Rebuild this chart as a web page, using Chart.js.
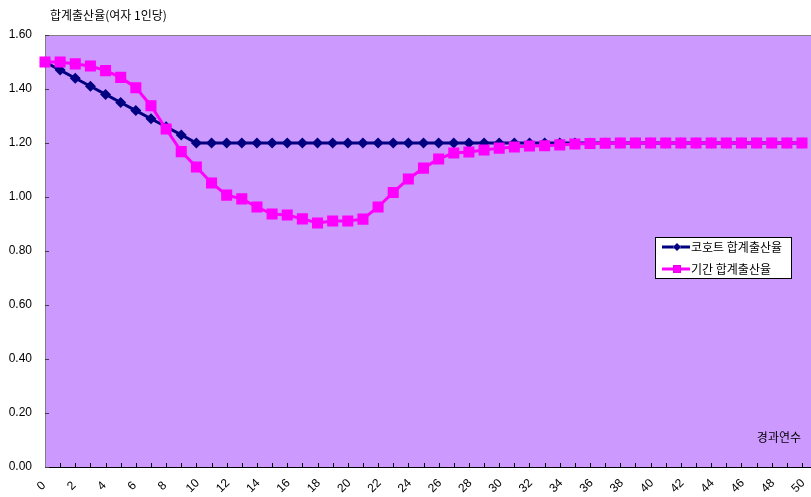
<!DOCTYPE html>
<html>
<head>
<meta charset="utf-8">
<script src="https://cdn.jsdelivr.net/npm/chart.js@4.4.1/dist/chart.umd.min.js"></script>
<style>
  html, body { margin: 0; padding: 0; background: #ffffff; }
  #wrap { width: 811px; height: 497px; position: relative; }
</style>
</head>
<body>
<div id="wrap"><canvas id="c" width="811" height="497"></canvas></div>
<script>
// Elapsed years (경과연수)
const years = ['0','1','2','3','4','5','6','7','8','9','10','11','12','13','14','15','16','17','18','19','20',
  '21','22','23','24','25','26','27','28','29','30','31','32','33','34','35','36','37','38','39','40',
  '41','42','43','44','45','46','47','48','49','50'];

// Cohort total fertility rate
const cohortTFR = [1.50, 1.47, 1.44, 1.41, 1.38, 1.35, 1.32, 1.29, 1.26, 1.23, 1.20,
  1.20, 1.20, 1.20, 1.20, 1.20, 1.20, 1.20, 1.20, 1.20, 1.20,
  1.20, 1.20, 1.20, 1.20, 1.20, 1.20, 1.20, 1.20, 1.20, 1.20,
  1.20, 1.20, 1.20, 1.20, 1.20, 1.20, 1.20, 1.20, 1.20, 1.20,
  1.20, 1.20, 1.20, 1.20, 1.20, 1.20, 1.20, 1.20, 1.20, 1.20];

// Period total fertility rate
const periodTFR = [1.50, 1.50, 1.493, 1.485, 1.468, 1.443, 1.405, 1.338, 1.252, 1.168, 1.111,
  1.052, 1.007, 0.993, 0.963, 0.937, 0.933, 0.919, 0.904, 0.911, 0.911,
  0.918, 0.963, 1.017, 1.067, 1.107, 1.141, 1.163, 1.167, 1.174, 1.181,
  1.185, 1.189, 1.190, 1.193, 1.196, 1.198, 1.199, 1.20, 1.20, 1.20,
  1.20, 1.20, 1.20, 1.20, 1.20, 1.20, 1.20, 1.20, 1.20, 1.20];

const seriesNames = ['코호트 합계출산율', '기간 합계출산율'];
const yAxisTitle = '합계출산율(여자 1인당)';
const xAxisTitle = '경과연수';

const FONT = "'Liberation Sans', 'Noto Sans CJK KR', sans-serif";
const KFONT = "'Noto Sans CJK KR', 'Liberation Sans', sans-serif";
const PLOT_BG = '#CC99FF';

Chart.defaults.font.family = FONT;
Chart.defaults.font.size = 12;
Chart.defaults.color = '#000000';

const decor = {
  id: 'decor',
  beforeDraw(chart) {
    const { ctx, chartArea: a, width } = chart;
    ctx.save();
    // the plot panel runs on to the right edge of the canvas
    ctx.fillStyle = PLOT_BG;
    ctx.fillRect(a.left, a.top, width - a.left, a.bottom - a.top);
    ctx.restore();
  },
  beforeDatasetsDraw(chart) {
    const { ctx, chartArea: a, scales, width } = chart;
    ctx.save();
    // plot frame
    ctx.strokeStyle = '#808080';
    ctx.lineWidth = 1;
    ctx.beginPath();
    ctx.moveTo(a.left + 0.5, a.bottom);
    ctx.lineTo(a.left + 0.5, a.top + 0.5);
    ctx.lineTo(width, a.top + 0.5);
    ctx.stroke();
    // bottom axis
    ctx.strokeStyle = '#000000';
    ctx.beginPath();
    ctx.moveTo(a.left, a.bottom + 0.5);
    ctx.lineTo(width, a.bottom + 0.5);
    ctx.stroke();
    // inner tick marks on the category axis
    const xs = scales.x;
    ctx.beginPath();
    for (let i = 1; i < years.length; i++) {
      const px = Math.round(xs.getPixelForValue(i)) + 0.5;
      ctx.moveTo(px, a.bottom);
      ctx.lineTo(px, a.bottom - 4);
    }
    ctx.stroke();
    // inner tick marks on the value axis
    const ys = scales.y;
    ctx.strokeStyle = '#404040';
    ctx.beginPath();
    ys.ticks.forEach(t => {
      const py = Math.round(ys.getPixelForValue(t.value)) + 0.5;
      ctx.moveTo(a.left, py);
      ctx.lineTo(a.left + 4, py);
    });
    ctx.stroke();
    ctx.restore();
  },
  afterDraw(chart) {
    const { ctx, chartArea: a, scales } = chart;
    ctx.save();

    // slanted category labels, every second year
    const xs = scales.x;
    ctx.fillStyle = '#000000';
    ctx.font = '12px ' + FONT;
    ctx.textAlign = 'center';
    ctx.textBaseline = 'middle';
    for (let i = 0; i < years.length; i += 2) {
      const px = xs.getPixelForValue(i) - 3.5;
      ctx.save();
      ctx.translate(px, a.bottom + 19);
      ctx.rotate(-Math.PI / 4);
      ctx.fillText(years[i], 0, 0);
      ctx.restore();
    }

    ctx.font = '12px ' + KFONT;
    ctx.textAlign = 'left';
    ctx.fillText(yAxisTitle, 50, 15);
    ctx.textAlign = 'right';
    ctx.fillText(xAxisTitle, 801, 437);

    // legend box
    const bx = 655.5, by = 237.5, bw = 136, bh = 41;
    ctx.fillStyle = '#ffffff';
    ctx.fillRect(bx, by, bw, bh);
    ctx.strokeStyle = '#000000';
    ctx.lineWidth = 1;
    ctx.strokeRect(bx, by, bw, bh);
    const rows = [
      { y: 247, ds: chart.data.datasets[0] },
      { y: 269, ds: chart.data.datasets[1] }
    ];
    rows.forEach(r => {
      ctx.strokeStyle = r.ds.borderColor;
      ctx.lineWidth = 3;
      ctx.beginPath();
      ctx.moveTo(662, r.y);
      ctx.lineTo(690, r.y);
      ctx.stroke();
      Chart.helpers.drawPoint(ctx, {
        pointStyle: r.ds.pointStyle,
        radius: r.ds.pointStyle === 'rect' ? 5.5 : 4,
        rotation: 0,
        borderWidth: 0
      }, 677, r.y);
      ctx.fillStyle = r.ds.pointBackgroundColor;
      ctx.fill();
      ctx.fillStyle = '#000000';
      ctx.textAlign = 'left';
      ctx.font = '12px ' + KFONT;
      ctx.fillText(r.ds.label, 691, r.y);
    });
    ctx.restore();
  }
};

new Chart(document.getElementById('c'), {
  type: 'line',
  data: {
    labels: years,
    datasets: [
      {
        label: seriesNames[0],
        data: cohortTFR,
        borderColor: '#000080',
        backgroundColor: '#000080',
        pointBackgroundColor: '#000080',
        pointBorderColor: '#000080',
        pointBorderWidth: 0,
        borderWidth: 3,
        pointStyle: 'rectRot',
        pointRadius: 5.5,
        tension: 0,
        order: 1
      },
      {
        label: seriesNames[1],
        data: periodTFR,
        borderColor: '#FF00FF',
        backgroundColor: '#FF00FF',
        pointBackgroundColor: '#FF00FF',
        pointBorderColor: '#FF00FF',
        pointBorderWidth: 0,
        borderWidth: 3,
        pointStyle: 'rect',
        pointRadius: 7.8,
        tension: 0,
        order: 0
      }
    ]
  },
  options: {
    responsive: false,
    animation: false,
    devicePixelRatio: 1,
    layout: { padding: { top: 35, right: 9, left: 0, bottom: 0 } },
    plugins: {
      legend: { display: false },
      title: { display: false },
      tooltip: { enabled: false }
    },
    scales: {
      x: {
        type: 'category',
        offset: false,
        grid: { display: false, drawTicks: false },
        border: { display: false },
        ticks: { display: false, autoSkip: false },
        afterFit(scale) { scale.height = 30; }
      },
      y: {
        min: 0,
        max: 1.6,
        grid: { display: false, drawTicks: false },
        border: { display: false },
        ticks: {
          stepSize: 0.2,
          padding: 13,
          font: { size: 12, family: FONT },
          callback: v => Number(v).toFixed(2)
        },
        afterFit(scale) { scale.width = 45; }
      }
    }
  },
  plugins: [decor]
});
</script>
</body>
</html>
